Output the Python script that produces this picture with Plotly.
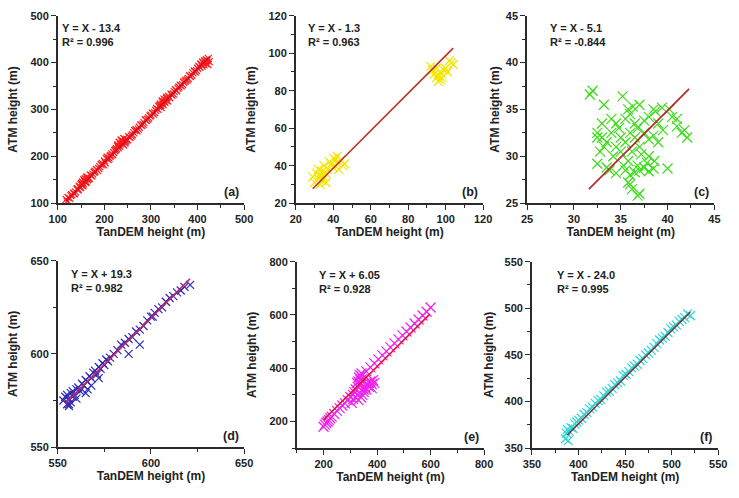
import plotly.graph_objects as go

# ---------------- data ----------------
# (a)
a_x = [118,122,126,130,134,138,141,144,146,148,150,152,153,155,156,158,159,160,162,164,166,170,175,180,185,190,195,198,200,204,208,212,216,220,224,228,230,232,234,236,238,240,242,244,246,248,250,255,260,265,270,275,280,285,290,295,300,305,310,315,318,320,322,324,326,328,330,332,334,336,340,345,350,355,360,365,370,375,380,385,390,395,400,405,408,410,412,414,416,418,420,422,425,
       120,128,136,143,149,151,154,157,161,163,168,173,178,183,188,193,202,206,210,214,218,222,226,229,233,237,241,245,252,258,263,268,273,278,283,288,293,298,303,308,312,317,321,325,329,333,338,343,348,353,358,363,368,373,378,383,388,393,398,403,407,411,415,419,423]
a_y = [108,112,110,118,121,124,130,128,136,133,140,138,145,141,150,146,152,144,155,150,152,160,162,168,170,178,185,182,190,195,193,200,205,208,214,222,218,230,226,235,228,232,238,228,234,236,235,240,246,255,254,262,266,272,276,282,288,290,298,300,308,312,304,318,310,322,315,320,326,318,325,330,338,340,348,350,358,362,366,370,378,380,388,390,396,392,400,395,402,398,404,396,402,
       104,116,120,131,134,142,137,148,146,156,153,158,166,172,174,182,186,198,196,202,203,212,216,224,221,233,224,231,242,243,250,257,258,267,268,278,279,286,292,293,302,306,309,314,317,324,328,333,333,342,345,352,353,360,363,372,373,382,383,392,397,401,404,406,409]
# (b)
b_x = [29,30,31,32,32,33,33,34,34,35,35,36,36,37,38,39,40,40,41,41,42,42,43,43,44,45,46,92,93,94,95,95,96,96,97,97,98,98,99,100,101,102,103,104]
b_y = [34,31,36,33,38,30,35,37,32,40,34,36,31,38,42,41,44,39,43,40,45,41,42,38,43,40,41,93,91,89,92,87,88,85,90,86,87,89,91,92,90,96,95,94]
# (c)
c_x = [31.7,32.0,35.2,33.2,37.0,38.5,38.7,39.4,40.2,41.0,41.5,41.8,42.1,41.0,40.5,34.0,34.5,35.5,36.0,36.5,37.5,38.0,33.0,32.5,33.5,34.0,34.5,35.0,35.5,36.0,36.5,37.0,37.5,38.0,38.5,39.0,39.5,32.8,33.2,34.2,35.0,35.8,36.2,36.8,37.2,38.0,38.6,32.5,33.5,34.5,33.8,35.5,36.0,36.5,37.0,37.5,38.0,38.5,40.0,36.0,36.2,36.8,37.0,35.8,32.5,34.8,36.8,35.3,37.8,39.0,33.0,35.8,36.3]
c_y = [36.6,37.0,36.4,35.5,35.5,35.0,34.8,35.2,35.0,34.0,32.5,32.8,32.0,33.2,34.2,34.0,33.5,34.0,34.5,33.5,33.8,34.2,32.0,32.5,31.5,32.5,31.0,32.0,31.5,32.5,32.0,31.0,32.5,31.8,32.2,31.5,32.8,30.5,31.0,30.0,30.5,29.5,30.5,29.0,30.2,30.0,29.5,29.2,28.8,28.2,28.5,28.5,28.0,28.3,28.5,28.8,28.4,28.7,28.7,27.0,26.5,25.8,26.0,27.2,32.0,33.0,33.0,29.0,29.3,33.5,33.5,35.0,35.3]
# (d)
d_x = [553,554,555,555,556,556,557,557,558,558,559,560,560,561,562,563,564,565,566,566,567,568,569,570,571,572,573,574,575,576,577,578,580,582,584,586,588,588,590,592,594,594,596,598,600,601,602,604,606,608,610,612,614,616,618,621,565,568,572,556]
d_y = [575,577,573,578,572,576,574,579,577,580,578,581,576,582,580,584,583,586,585,581,588,587,590,591,589,593,592,595,594,597,596,598,600,602,605,606,608,600,609,612,613,605,615,618,620,620,622,624,625,628,630,631,633,634,636,637,579,583,587,573]
# (e)
e_x = [200,205,210,215,220,225,230,240,250,260,270,280,290,300,310,315,320,325,330,332,335,338,340,342,345,335,328,350,355,360,365,370,375,380,385,390,345,350,360,370,380,340,330,320,310,305,360,375,390,405,420,435,450,465,480,495,510,525,540,555,570,585,600]
e_y = [180,188,195,200,205,212,218,228,240,250,260,268,280,292,300,310,320,345,350,365,375,355,370,380,360,340,330,320,330,340,335,345,350,340,355,345,300,310,320,330,325,290,280,290,285,270,388,403,418,433,448,463,478,493,508,523,538,553,568,583,598,612,628]
# (f)
f_x = [386,387,388,389,390,392,394,396,398,400,403,406,409,412,415,418,421,424,427,430,433,436,439,442,445,448,451,454,457,460,463,466,469,472,475,478,481,484,487,490,493,496,499,502,505,508,511,514,517,520]
f_y = [360,366,370,358,368,372,371,376,378,380,382,386,388,392,394,398,401,402,406,410,411,414,418,420,422,428,429,432,436,438,440,444,446,450,452,455,458,462,466,468,470,474,478,480,482,486,488,490,494,492]

# fit lines: intercepts (Y = X + b) and x extents
fit_b = [-13.4, -1.3, -5.1, 19.3, 6.05, -24.0]
fit_x0 = [118, 29, 31.6, 554, 200, 388]
fit_x1 = [425, 104, 42.3, 621, 597, 520]
eq_text = ["Y = X - 13.4", "Y = X - 1.3", "Y = X - 5.1", "Y = X + 19.3", "Y = X + 6.05", "Y = X - 24.0"]
r2_text = ["R² = 0.996", "R² = 0.963", "R² = -0.844", "R² = 0.982", "R² = 0.928", "R² = 0.995"]
labels = ["(a)", "(b)", "(c)", "(d)", "(e)", "(f)"]

# axis ranges / ticks
x_range = [[100, 500], [20, 120], [25, 45], [550, 650], [100, 800], [350, 550]]
y_range = [[100, 500], [20, 120], [25, 45], [550, 650], [100, 800], [350, 550]]
dtick = [100, 20, 5, 50, 200, 50]
mdtick = [50, 10, 2.5, 25, 100, 25]
tick0 = [100, 20, 25, 550, 0, 350]

# ---------------- style ----------------
W, H = 739, 498
boxes = [  # x0, x1, y0(top), y1(bottom) in pixels
    (50, 241, 10, 202), (294, 486, 10, 202), (531, 723, 10, 202),
    (50, 241, 261, 452), (295, 487, 262, 453), (536, 727, 262, 453),
]
mcolors = ["#ff1a1a", "#f2e600", "#3ddc1a", "#2a2ab8", "#ee22ee", "#2ad6d6"]
lcolors = ["#c8102e", "#c0302a", "#b8202a", "#d0205a", "#dd1830", "#8a2f35"]
msize = [7, 9, 10, 8, 10, 9]
ystand = [10, 10, 4, 10, 10, 8]
eq_dx = [2, 10, 21, 12, 21, 24]
FONT = "Liberation Sans, Arial, sans-serif"
AX = "#2b2b2b"

xs = [a_x, b_x, c_x, d_x, e_x, f_x]
ys = [a_y, b_y, c_y, d_y, e_y, f_y]

fig = go.Figure()
annotations = []
for i in range(6):
    n = "" if i == 0 else str(i + 1)
    fig.add_trace(go.Scatter(
        x=xs[i], y=ys[i], mode="markers", xaxis="x" + n, yaxis="y" + n,
        marker=dict(symbol="x-thin-open", size=msize[i], color=mcolors[i],
                    line=dict(color=mcolors[i], width=1.2)),
        showlegend=False))
    lx = [fit_x0[i], fit_x1[i]]
    fig.add_trace(go.Scatter(
        x=lx, y=[v + fit_b[i] for v in lx], mode="lines", xaxis="x" + n, yaxis="y" + n,
        line=dict(color=lcolors[i], width=1.6), showlegend=False))
    x0, x1, y0, y1 = boxes[i]
    common = dict(
        showline=True, linecolor=AX, linewidth=1.6, mirror=False,
        ticks="outside", ticklen=5, tickwidth=1.4, tickcolor=AX,
        minor=dict(ticks="outside", ticklen=3, tickwidth=1.2, tickcolor=AX, dtick=mdtick[i]),
        showgrid=False, zeroline=False,
        tickfont=dict(family=FONT, size=11, color="#222", weight="bold"),
        tick0=tick0[i], dtick=dtick[i],
    )
    fig.layout["xaxis" + n] = dict(
        common, domain=[x0 / W, x1 / W], range=x_range[i], anchor="y" + n,
        title=dict(text="TanDEM height (m)", standoff=0,
                   font=dict(family=FONT, size=12, color="#222", weight="bold")))
    fig.layout["yaxis" + n] = dict(
        common, domain=[1 - y1 / H, 1 - y0 / H], range=y_range[i], anchor="x" + n,
        title=dict(text="ATM height (m)", standoff=ystand[i],
                   font=dict(family=FONT, size=12, color="#222", weight="bold")))
    # equation text
    tx = x0 + eq_dx[i]
    ty = y0 + (4 if i < 3 else 5)
    annotations.append(dict(
        x=tx / W, y=1 - ty / H, xref="paper", yref="paper", xanchor="left", yanchor="top",
        text=eq_text[i] + "<br>" + r2_text[i], showarrow=False, align="left",
        font=dict(family=FONT, size=11, color="#222", weight="bold")))
    annotations.append(dict(
        x=(x1 - 3) / W, y=1 - (y1 - 2) / H, xref="paper", yref="paper",
        xanchor="right", yanchor="bottom", text=labels[i], showarrow=False,
        font=dict(family=FONT, size=12.5, color="#222", weight="bold")))

fig.update_layout(
    width=W, height=H, margin=dict(l=0, r=0, t=0, b=0),
    paper_bgcolor="white", plot_bgcolor="white",
    annotations=annotations,
)
fig.write_html("out.html")
